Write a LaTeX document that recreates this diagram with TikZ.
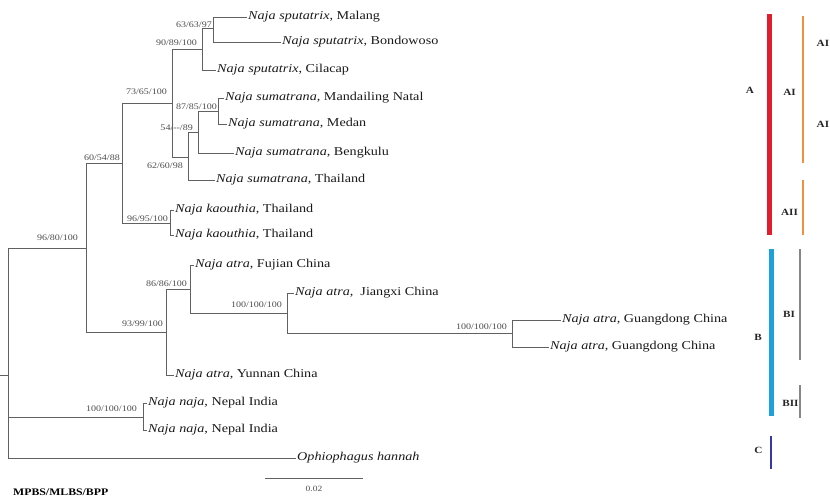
\documentclass[tikz,border=0pt]{standalone}
\usepackage{fontspec}
\setmainfont{Liberation Serif}[FakeStretch=1.18]
\usepackage{tikz}
\usetikzlibrary{positioning}
\definecolor{cladeA}{RGB}{225,30,45}
\definecolor{subA}{RGB}{235,145,65}
\definecolor{cladeB}{RGB}{30,160,220}
\definecolor{subB}{RGB}{135,135,135}
\definecolor{cladeC}{RGB}{55,55,165}
\tikzstyle{branch} = [draw=black!62, line width=0.8pt]
\tikzstyle{taxon} = [anchor=west, inner sep=1.5pt, text=black!90, font=\fontsize{12}{14}\selectfont]
\tikzstyle{support} = [inner sep=1pt, text=black!70, font=\fontsize{8.5}{10}\selectfont]
\tikzstyle{clade} = [inner sep=0pt, text=black!85, font=\bfseries\fontsize{9.5}{11}\selectfont]
\tikzstyle{bar} = [line cap=butt]

\begin{document}
\begin{tikzpicture}[x=1pt,y=-1pt]
					\useasboundingbox (0,0) rectangle (830,498);
					
					%Internal nodes
					\coordinate (stub) at (0,375);
					\coordinate (root) at (8,375);
					\coordinate (nCobra) at (86,248);
					\coordinate (nSpitA) at (122,163);
					\coordinate (nSpSu) at (172,103);
					\coordinate (nSput) at (202,49);
					\coordinate (nSputEJ) at (213,28.5);
					\coordinate (nSuma) at (188,157);
					\coordinate (nSumaS) at (198,132);
					\coordinate (nSumaN) at (218,111);
					\coordinate (nKaou) at (170,223);
					\coordinate (nAtra) at (166,332);
					\coordinate (nAtraE) at (190,289);
					\coordinate (nAtraJG) at (287,313);
					\coordinate (nGuang) at (512,333.5);
					\coordinate (nNaja) at (143,417);
					
					%Taxa
					\node[taxon] (tMalang) at (246.5,17) {\textit{Naja sputatrix}, Malang};
					\node[taxon] (tBondowoso) at (280.5,42) {\textit{Naja sputatrix}, Bondowoso};
					\node[taxon] (tCilacap) at (215.5,70) {\textit{Naja sputatrix}, Cilacap};
					\node[taxon] (tMandailing) at (223.5,98) {\textit{Naja sumatrana}, Mandailing Natal};
					\node[taxon] (tMedan) at (226.5,124) {\textit{Naja sumatrana}, Medan};
					\node[taxon] (tBengkulu) at (233.5,153) {\textit{Naja sumatrana}, Bengkulu};
					\node[taxon] (tSumThai) at (214.5,180) {\textit{Naja sumatrana}, Thailand};
					\node[taxon] (tKaou1) at (173.5,210) {\textit{Naja kaouthia}, Thailand};
					\node[taxon] (tKaou2) at (173.5,235) {\textit{Naja kaouthia}, Thailand};
					\node[taxon] (tFujian) at (193.5,265) {\textit{Naja atra}, Fujian China};
					\node[taxon] (tJiangxi) at (293.5,293) {\textit{Naja atra},~ Jiangxi China};
					\node[taxon] (tGuang1) at (560.5,320) {\textit{Naja atra}, Guangdong China};
					\node[taxon] (tGuang2) at (548.5,347) {\textit{Naja atra}, Guangdong China};
					\node[taxon] (tYunnan) at (173.5,375) {\textit{Naja atra}, Yunnan China};
					\node[taxon] (tNepal1) at (146.5,403) {\textit{Naja naja}, Nepal India};
					\node[taxon] (tNepal2) at (146.5,430) {\textit{Naja naja}, Nepal India};
					\node[taxon] (tHannah) at (295.5,458) {\textit{Ophiophagus hannah}};
					
					%Support values
					\node[support, above left=0pt and 0pt of nSputEJ] (sSputEJ) {63/63/97};
					\node[support, above left=2.4pt and 4pt of nSput] (sSput) {90/89/100};
					\node[support, above left=7.4pt and 4pt of nSpSu] (sSpSu) {73/65/100};
					\node[support, above left=1.4pt and 1pt of nSpitA] (sSpitA) {60/54/88};
					\node[support, above left=6.4pt and 7pt of nCobra] (sCobra) {96/80/100};
					\node[support, below left=4.4pt and 4pt of nSuma] (sSuma) {62/60/98};
					\node[support, above left=0pt and 4pt of nSumaS] (sSumaS) {54/{-}{-}/89};
					\node[support, above left=0pt and 0pt of nSumaN] (sSumaN) {87/85/100};
					\node[support, above left=0pt and 1pt of nKaou] (sKaou) {96/95/100};
					\node[support, above left=4.4pt and 2pt of nAtra] (sAtra) {93/99/100};
					\node[support, above left=1.4pt and 2pt of nAtraE] (sAtraE) {86/86/100};
					\node[support, above left=4.4pt and 4pt of nAtraJG] (sAtraJG) {100/100/100};
					\node[support, above left=2.9pt and 4pt of nGuang] (sGuang) {100/100/100};
					\node[support, above left=4.4pt and 5pt of nNaja] (sNaja) {100/100/100};
					
					%Lines
					\draw[branch] (stub) -- (root);
					\draw[branch] (root) |- (nCobra);
					\draw[branch] (root) |- (nNaja);
					\draw[branch] (root) |- (tHannah);
					\draw[branch] (nCobra) |- (nSpitA);
					\draw[branch] (nCobra) |- (nAtra);
					\draw[branch] (nSpitA) |- (nSpSu);
					\draw[branch] (nSpitA) |- (nKaou);
					\draw[branch] (nSpSu) |- (nSput);
					\draw[branch] (nSpSu) |- (nSuma);
					\draw[branch] (nSput) |- (nSputEJ);
					\draw[branch] (nSput) |- (tCilacap);
					\draw[branch] (nSputEJ) |- (tMalang);
					\draw[branch] (nSputEJ) |- (tBondowoso);
					\draw[branch] (nSuma) |- (nSumaS);
					\draw[branch] (nSuma) |- (tSumThai);
					\draw[branch] (nSumaS) |- (nSumaN);
					\draw[branch] (nSumaS) |- (tBengkulu);
					\draw[branch] (nSumaN) |- (tMandailing);
					\draw[branch] (nSumaN) |- (tMedan);
					\draw[branch] (nKaou) |- (tKaou1);
					\draw[branch] (nKaou) |- (tKaou2);
					\draw[branch] (nAtra) |- (nAtraE);
					\draw[branch] (nAtra) |- (tYunnan);
					\draw[branch] (nAtraE) |- (tFujian);
					\draw[branch] (nAtraE) |- (nAtraJG);
					\draw[branch] (nAtraJG) |- (tJiangxi);
					\draw[branch] (nAtraJG) |- (nGuang);
					\draw[branch] (nGuang) |- (tGuang1);
					\draw[branch] (nGuang) |- (tGuang2);
					\draw[branch] (nNaja) |- (tNepal1);
					\draw[branch] (nNaja) |- (tNepal2);
					
					%Scale
					\coordinate (scaleL) at (265,478);
					\coordinate (scaleR) at (363,478);
					\draw[branch] (scaleL) -- (scaleR);
					\node[support, font=\fontsize{8}{9}\selectfont] (scaleLab) at (314,489) {0.02};
					\node[anchor=west, inner sep=0pt, font=\bfseries\fontsize{10}{12}\selectfont] (method) at (13,492) {MPBS/MLBS/BPP};
					
					%Clades
					\draw[bar, cladeA, line width=5pt] (769,14) -- (769,235);
					\draw[bar, subA, line width=2.5pt] (803,16) -- (803,163);
					\draw[bar, subA, line width=2.5pt] (803,180) -- (803,235);
					\draw[bar, cladeB, line width=5pt] (771,249) -- (771,416);
					\draw[bar, subB, line width=1.2pt] (800,249) -- (800,360);
					\draw[bar, subB, line width=1.2pt] (800,385) -- (800,418);
					\draw[bar, cladeC, line width=2pt] (771,436) -- (771,469);
					\node[clade] (labA) at (750,90) {A};
					\node[clade] (labAI) at (789.5,92) {AI};
					\node[clade] (labAII) at (789.5,212) {AII};
					\node[clade, anchor=west] (labAIa) at (816.5,43) {AI};
					\node[clade, anchor=west] (labAIb) at (816.5,124) {AI};
					\node[clade] (labB) at (758,337) {B};
					\node[clade] (labBI) at (789,314) {BI};
					\node[clade] (labBII) at (790.5,403) {BII};
					\node[clade] (labC) at (758.5,450) {C};
				\end{tikzpicture}
\end{document}
